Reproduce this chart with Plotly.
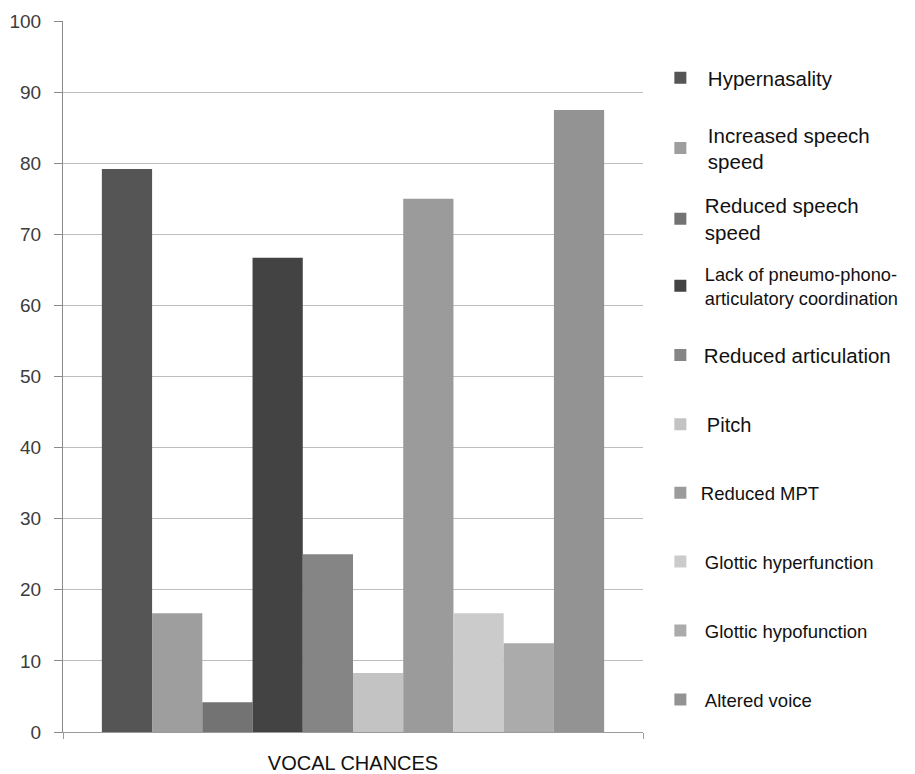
import plotly.graph_objects as go

# Share of patients (%) showing each vocal change (n = 24)
category = ["VOCAL CHANCES"]
labels = [
    "Hypernasality",
    "Increased speech<br>speed",
    "Reduced speech<br>speed",
    "Lack of pneumo-phono-<br>articulatory coordination",
    "Reduced articulation",
    "Pitch",
    "Reduced MPT",
    "Glottic hyperfunction",
    "Glottic hypofunction",
    "Altered voice",
]
values = [79.2, 16.7, 4.2, 66.7, 25.0, 8.3, 75.0, 16.7, 12.5, 87.5]
colors = ["#555555", "#9e9e9e", "#737373", "#434343", "#858585",
          "#c3c3c3", "#9b9b9b", "#cbcbcb", "#ababab", "#939393"]
y_ticks = list(range(0, 101, 10))

# legend placement: paper y of each entry, text indent (px) and font size per entry
legend_y = [0.920, 0.821, 0.7215, 0.627, 0.530, 0.433, 0.336, 0.239, 0.142, 0.045]
legend_indent = [0, 0, -3, -3, -4, -1, -7, -3, -3, -3]
legend_fs = [20.5, 20.5, 20.5, 18.2, 20.5, 20, 18.5, 18.5, 18.5, 18.5]

FONT = "Liberation Sans, Arial, sans-serif"
PLOT_W = 580

fig = go.Figure()
for i, (name, v, c) in enumerate(zip(labels, values, colors)):
    lg = "legend" if i == 0 else f"legend{i + 1}"
    fig.add_trace(go.Bar(
        x=category, y=[v], name=name, marker=dict(color=c, line=dict(width=0)),
        legend=lg, showlegend=True,
    ))

layout_legends = {}
for i, (ly, d, fs) in enumerate(zip(legend_y, legend_indent, legend_fs)):
    key = "legend" if i == 0 else f"legend{i + 1}"
    # widening the item by 2d while shifting the box by -d keeps the swatch fixed
    layout_legends[key] = dict(
        x=1.017 - d / PLOT_W, xanchor="left", y=ly, yanchor="middle",
        bgcolor="rgba(0,0,0,0)", borderwidth=0,
        font=dict(family=FONT, size=fs, color="#111111"),
        itemwidth=45 + 2 * d, tracegroupgap=0,
    )

fig.update_layout(
    width=915, height=774,
    margin=dict(l=63, r=272, t=21, b=42, autoexpand=False),
    paper_bgcolor="white", plot_bgcolor="white",
    barmode="group", bargap=0.134, bargroupgap=0,
    font=dict(family=FONT),
    **layout_legends,
)
fig.update_yaxes(
    range=[0, 100], tickvals=y_ticks, automargin=False,
    showgrid=True, gridcolor="#bdbdbd", gridwidth=1,
    showline=True, linecolor="#8a8a8a", linewidth=1,
    ticks="outside", ticklen=8, tickcolor="#8a8a8a",
    tickfont=dict(family=FONT, size=19, color="#3c3c3c"),
    ticklabelstandoff=9,
    zeroline=False,
)
fig.update_xaxes(
    automargin=False,
    showline=True, linecolor="#9a9a9a", linewidth=1,
    ticks="outside", ticklen=6, tickcolor="#9a9a9a", tickson="boundaries",
    tickfont=dict(family=FONT, size=20, color="#111111"),
    ticklabelstandoff=13,
)

fig.write_html("out.html")
